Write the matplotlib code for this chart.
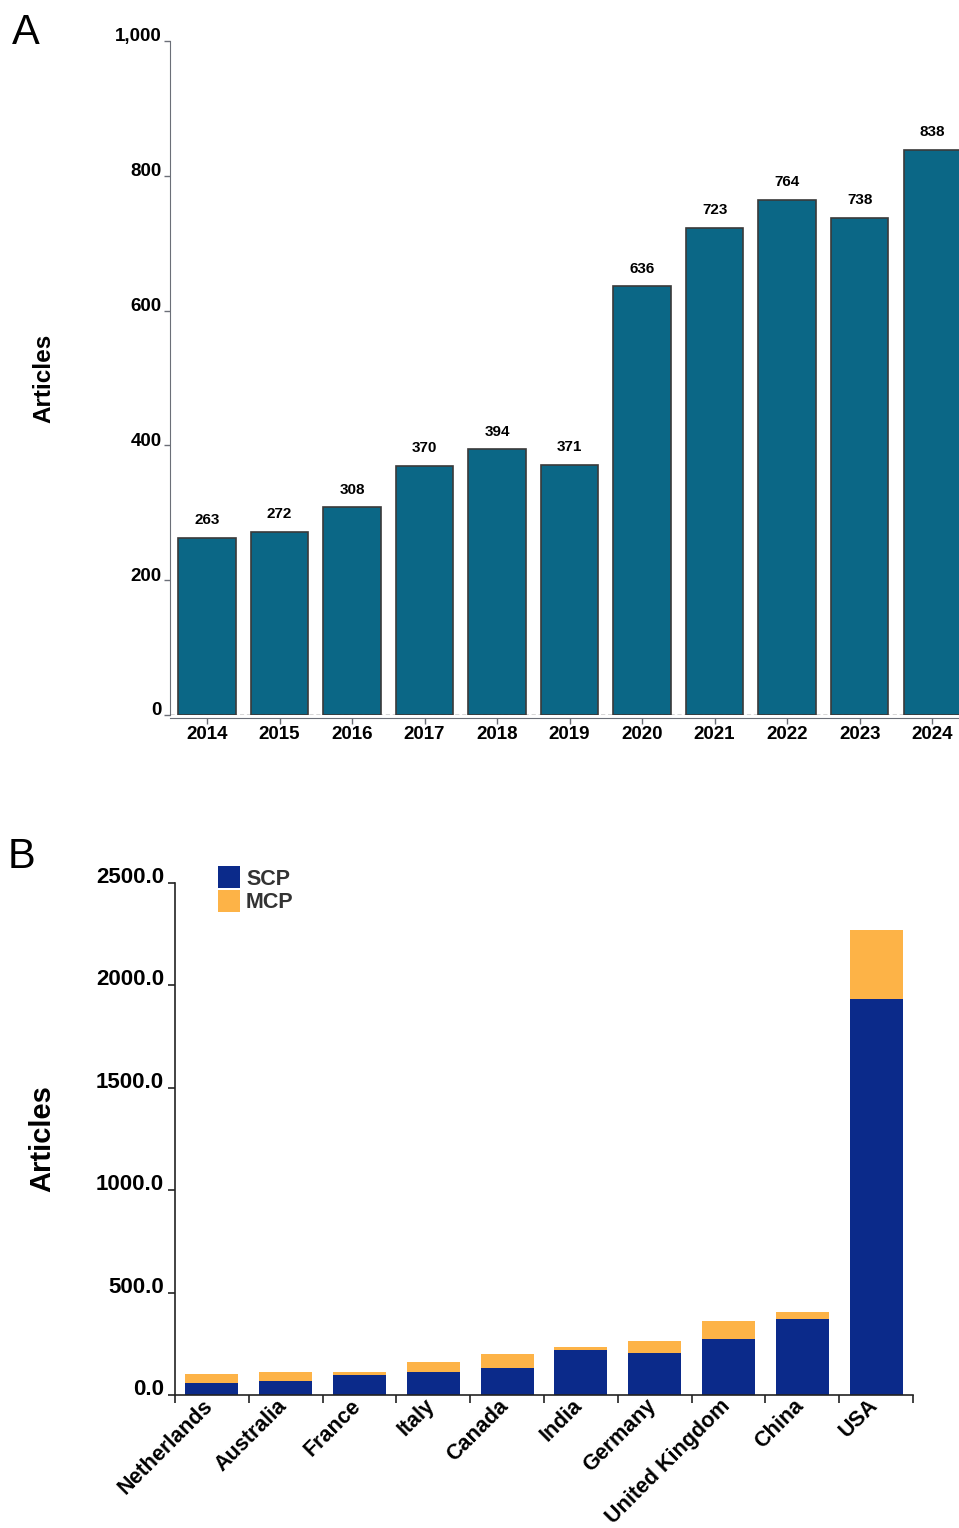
import matplotlib
matplotlib.use("Agg")
import matplotlib.pyplot as plt
import matplotlib.transforms as mtransforms
from matplotlib.patches import Patch
import numpy as np

plt.rcParams['font.family'] = ['Liberation Sans', 'DejaVu Sans']

# Panel A: articles per year
years = ["2014", "2015", "2016", "2017", "2018", "2019", "2020", "2021", "2022", "2023", "2024"]
articles = [263, 272, 308, 370, 394, 371, 636, 723, 764, 738, 838]

# Panel B: articles per country, split by SCP / MCP
countries = ["Netherlands", "Australia", "France", "Italy", "Canada", "India",
             "Germany", "United Kingdom", "China", "USA"]
scp = [60, 70, 98, 111, 132, 220, 204, 275, 370, 1935]
mcp = [41, 42, 16, 50, 70, 14, 60, 86, 35, 336]

W, H = 959, 1528
fig = plt.figure(figsize=(W / 100, H / 100), dpi=100)

axis_grey = "#6b6f78"


def shift_labels(labels, dx_px, dy_px):
    """Offset tick labels by a number of pixels."""
    off = mtransforms.ScaledTranslation(dx_px / 100, dy_px / 100, fig.dpi_scale_trans)
    for lab in labels:
        lab.set_transform(lab.get_transform() + off)


# ---------------- Panel A ----------------
axA = fig.add_axes([170 / W, 1 - 715 / H, 1 - 170 / W, 674 / H])
xa = np.arange(len(years))
axA.bar(xa, articles, width=0.79, color="#0b6786", edgecolor="#3a3a3a", linewidth=1.2, zorder=2)
for x, v in zip(xa, articles):
    axA.text(x, v + 16, f"{v}", ha="center", va="bottom", fontsize=11, fontweight="bold")
axA.set_xlim(-0.51, 10.37)
axA.set_ylim(0, 1000)
axA.axhline(0, color="#333333", linestyle=(0, (3, 2)), linewidth=1.0, zorder=3)
for s in ["top", "right"]:
    axA.spines[s].set_visible(False)
axA.spines["left"].set_color(axis_grey)
axA.spines["bottom"].set_color(axis_grey)
axA.spines["bottom"].set_position(("outward", 2))
axA.tick_params(axis="both", colors=axis_grey, labelcolor="black", length=4, width=1)
axA.tick_params(axis="x", pad=2)
axA.tick_params(axis="y", pad=2)
axA.set_xticks(xa)
axA.set_xticklabels(years)
axA.set_yticks([0, 200, 400, 600, 800, 1000])
axA.set_yticklabels(["0", "200", "400", "600", "800", "1,000"])
for lab in axA.get_xticklabels() + axA.get_yticklabels():
    lab.set_fontsize(13.5)
    lab.set_fontweight("bold")
shift_labels(axA.get_yticklabels(), 0, 6)
axA.set_ylabel("Articles", fontsize=17.5, fontweight="bold")
axA.yaxis.set_label_coords(-0.145, 0.5)
fig.text(12 / W, 1 - 33 / H, "A", fontsize=30, va="center", ha="left")

# ---------------- Panel B ----------------
axB = fig.add_axes([175 / W, 1 - 1395 / H, 738 / W, 512 / H])
xb = np.arange(len(countries))
axB.bar(xb, scp, width=0.72, color="#0b2a8a", label="SCP", zorder=2)
axB.bar(xb, mcp, width=0.72, bottom=scp, color="#fdb347", label="MCP", zorder=2)
axB.set_xlim(-0.5, 9.5)
axB.set_ylim(0, 2500)
axB.tick_params(axis="x", which="major", length=0, pad=3)
axB.tick_params(axis="x", which="minor", length=6, width=1.2, color="#222222")
axB.tick_params(axis="y", length=5, width=1.2, color="#222222", pad=3)
axB.set_yticks([0, 500, 1000, 1500, 2000, 2500])
axB.set_yticklabels([f"{v:.1f}" for v in [0, 500, 1000, 1500, 2000, 2500]])
axB.set_xticks(xb)
axB.set_xticklabels(countries, rotation=45, ha="right", rotation_mode="anchor")
axB.set_xticks(np.arange(-0.5, 10, 1), minor=True)
for lab in axB.get_xticklabels():
    lab.set_fontsize(15.5)
    lab.set_fontweight("bold")
for lab in axB.get_yticklabels():
    lab.set_fontsize(16)
    lab.set_fontweight("bold")
shift_labels(axB.get_yticklabels(), 0, 8)
shift_labels(axB.get_xticklabels(), -9, 4)
for s in ["top", "right"]:
    axB.spines[s].set_visible(False)
for s in ["left", "bottom"]:
    axB.spines[s].set_linewidth(1.2)
    axB.spines[s].set_color("#222222")
axB.set_ylabel("Articles", fontsize=21, fontweight="bold")
axB.yaxis.set_label_coords(-0.161, 0.5)
handles = [Patch(facecolor="#0b2a8a", label="SCP"), Patch(facecolor="#fdb347", label="MCP")]
leg = axB.legend(handles=handles, loc="upper left", bbox_to_anchor=(0.038, 1.062),
                 frameon=False, handlelength=1.0, handleheight=1.2, handletextpad=0.3,
                 labelspacing=0.0, borderpad=0.2,
                 prop={"size": 15.5, "weight": "bold"})
for t in leg.get_texts():
    t.set_color("#333333")
fig.text(8 / W, 1 - 857 / H, "B", fontsize=30, va="center", ha="left")

fig.savefig("out.png", dpi=100)
